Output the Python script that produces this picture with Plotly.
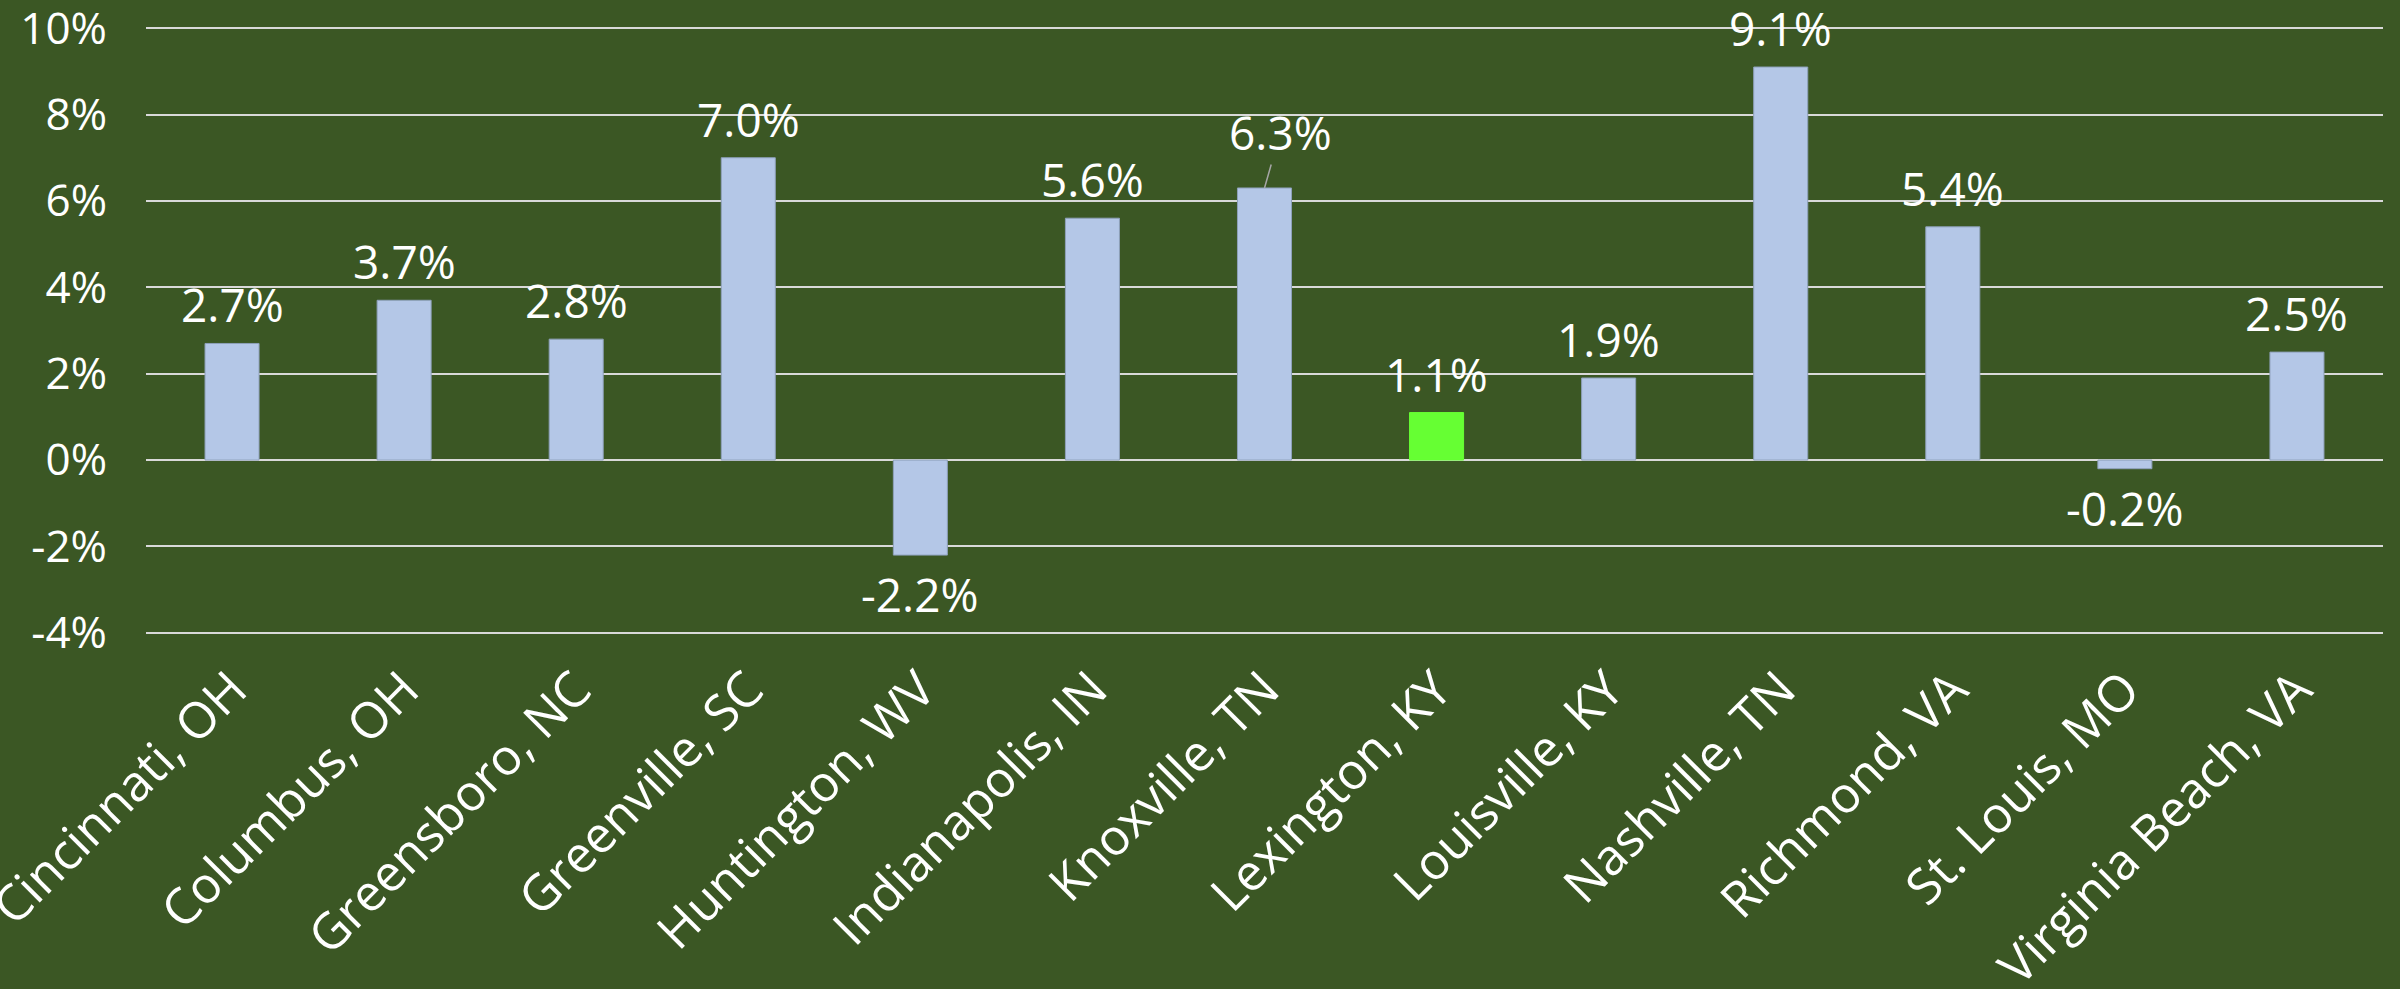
import plotly.graph_objects as go

cities = ["Cincinnati, OH", "Columbus, OH", "Greensboro, NC", "Greenville, SC",
          "Huntington, WV", "Indianapolis, IN", "Knoxville, TN", "Lexington, KY",
          "Louisville, KY", "Nashville, TN", "Richmond, VA", "St. Louis, MO",
          "Virginia Beach, VA"]
growth = [2.7, 3.7, 2.8, 7.0, -2.2, 5.6, 6.3, 1.1, 1.9, 9.1, 5.4, -0.2, 2.5]
highlight = "Lexington, KY"

y_tickvals = [-4, -2, 0, 2, 4, 6, 8, 10]
y_ticktext = ["-4%", "-2%", "0%", "2%", "4%", "6%", "8%", "10%"]

BG = "#3B5724"
BLUE = "#B4C7E7"
GREEN = "#66FF33"
FONT = "Open Sans"

colors = [GREEN if c == highlight else BLUE for c in cities]
line_colors = [GREEN if c == highlight else "#8EA0BA" for c in cities]

fig = go.Figure()
fig.add_trace(go.Bar(
    x=cities, y=growth,
    marker=dict(color=colors, line=dict(color=line_colors, width=1)),
    hoverinfo="skip",
))

for c, v in zip(cities, growth):
    txt = f"{v:.1f}%"
    if c == "Knoxville, TN":
        fig.add_annotation(x=c, y=v, text=txt, showarrow=True, arrowhead=0,
                           arrowwidth=1.5, arrowcolor="#A6A6A6", ax=16, ay=-56,
                           standoff=0,
                           font=dict(family=FONT, size=46, color="white"))
    else:
        fig.add_annotation(x=c, y=v, text=txt, showarrow=False,
                           yanchor="middle", yshift=39 if v >= 0 else -39,
                           font=dict(family=FONT, size=46, color="white"))

fig.update_layout(
    width=2400, height=989,
    paper_bgcolor=BG, plot_bgcolor=BG,
    margin=dict(l=146, r=17, t=26, b=354, autoexpand=False),
    bargap=0.686,
    showlegend=False,
    font=dict(family=FONT, color="white"),
)
fig.update_xaxes(
    tickangle=-45, tickfont=dict(family=FONT, size=50, color="white"),
    showgrid=False, showline=False, ticks="", ticklabelstandoff=14,
    automargin=False, ticklabeloverflow="allow",
)
fig.update_yaxes(
    range=[-4.05, 10.05], tickvals=y_tickvals, ticktext=y_ticktext,
    tickfont=dict(family=FONT, size=44, color="white"),
    showgrid=True, gridcolor="#D9D9D9", gridwidth=1.5,
    zeroline=True, zerolinecolor="#D9D9D9", zerolinewidth=1.5,
    showline=False, ticks="", ticklabelstandoff=38, automargin=False,
    ticklabeloverflow="allow",
)

fig.write_html("out.html", config={"displayModeBar": False},
               post_script="document.body.style.margin='0';document.body.style.background='%s';" % BG)
